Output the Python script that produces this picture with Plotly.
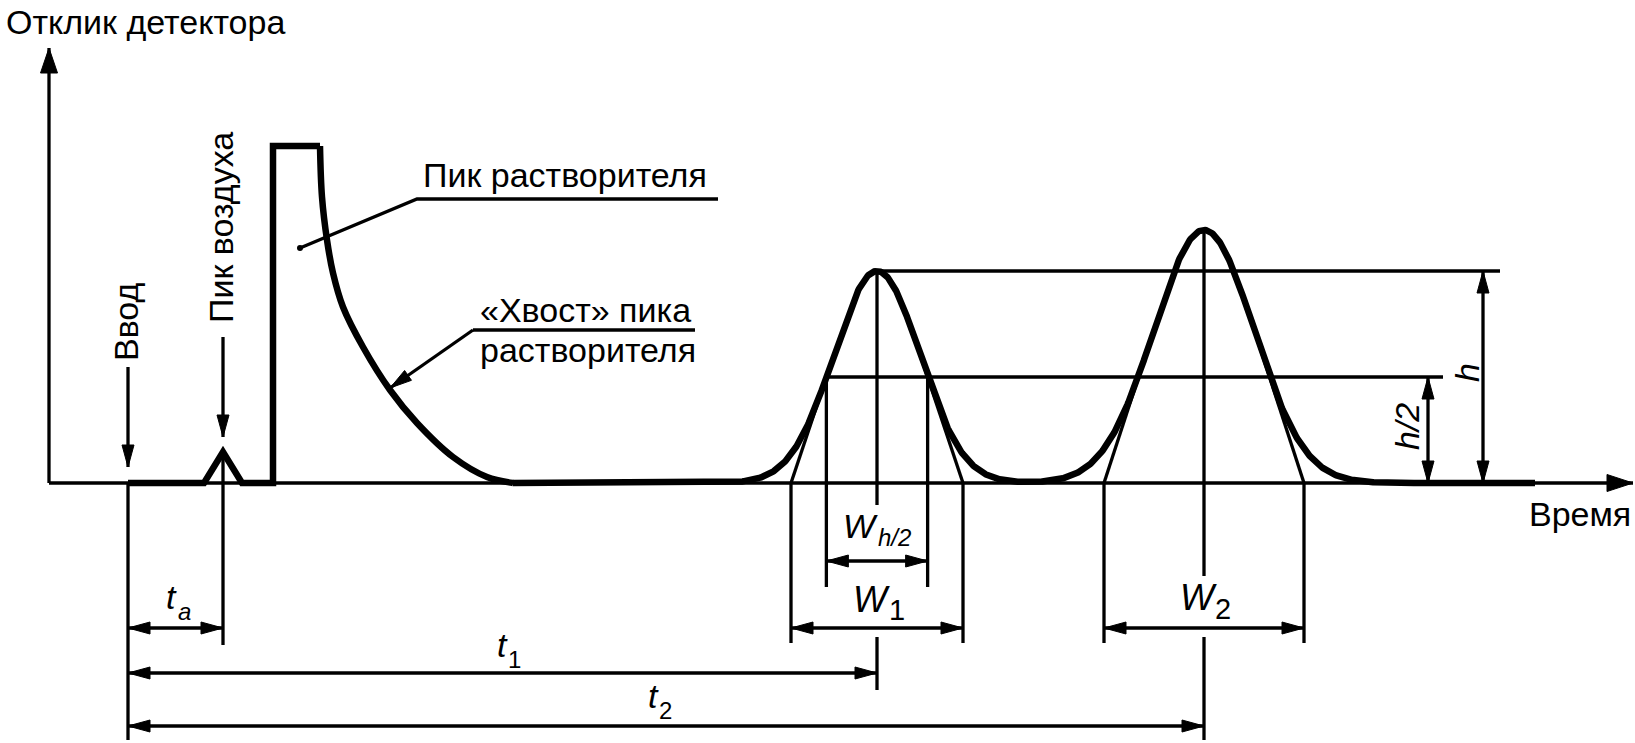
import numpy as np
import plotly.graph_objects as go

# ---------------- data (time: arbitrary units from injection; response: arbitrary units) -------------
t_air = 9.5                      # t_a, air peak retention
air_height = 3.1
air_half_base = 1.9
solvent_start = 14.5
solvent_height = 33.7
solvent_tail_t = [19.2, 19.4, 19.9, 20.5, 21.5, 23.5, 26.2, 28.9, 32.5, 35.9, 38.5]
solvent_tail_r = [33.7, 28.6, 24.3, 21.0, 17.6, 13.6, 9.3, 6.0, 2.6, 0.6, 0.0]
peak_t = [74.9, 107.6]           # t1, t2
peak_h = [21.2, 25.3]            # h of peak 1, peak 2
peak_sigma = [4.3, 5.0]
trace_end = 140.7

labels_main = {
    "ylab": "Отклик детектора",
    "xlab": "Время",
    "inject": "Ввод",
    "air": "Пик воздуха",
    "solvent": "Пик растворителя",
    "tail1": "«Хвост» пика",
    "tail2": "растворителя",
}

# ---------------- layout constants (positions/styles) ----------------
X0, X1 = -12.8, 150.7
Y0, Y1 = -26.0, 48.3
THICK = 6.5
THIN = 3.3
FONT = "Liberation Sans, Arial, Helvetica, sans-serif"
FS = 34
axis_x = -7.9
y_axis_top = 43.5
x_axis_end = 150.5

fig = go.Figure()

# ---------- thin lines ----------
lx, ly = [], []
heads = []


def seg(pts):
    for p in pts:
        lx.append(p[0]); ly.append(p[1])
    lx.append(None); ly.append(None)


def head(tip, frm, L=2.2, W=0.6):
    dx, dy = tip[0] - frm[0], tip[1] - frm[1]
    n = (dx * dx + dy * dy) ** 0.5
    dx, dy = dx / n, dy / n
    bx, by = tip[0] - dx * L, tip[1] - dy * L
    px, py = -dy, dx
    heads.append([(tip[0], tip[1]), (bx + px * W, by + py * W), (bx - px * W, by - py * W), (tip[0], tip[1])])


def arrow(a, b, both=False, **kw):
    seg([a, b])
    head(b, a, **kw)
    if both:
        head(a, b, **kw)


# axes
arrow((axis_x, 0), (axis_x, y_axis_top), L=2.5, W=0.85)
arrow((axis_x, 0), (x_axis_end, 0), L=2.6, W=0.85)

# injection and air peak pointers
arrow((0, 11.6), (0, 1.6))
arrow((t_air, 14.6), (t_air, 4.6))
seg([(0, 0), (0, -25.7)])
seg([(t_air, air_height), (t_air, -16.2)])

# solvent leaders
seg([(17.2, 23.5), (28.9, 28.4), (59.0, 28.4)])
arrow((34.5, 15.3), (26.2, 9.5))
seg([(34.5, 15.3), (56.7, 15.3)])

t1, t2 = peak_t
h1, h2 = peak_h
s1, s2 = peak_sigma
hw = 1.1774 * s1

# peak verticals
seg([(t1, h1), (t1, -2.2)])
seg([(t1, -15.4), (t1, -20.7)])
seg([(t2, h2), (t2, -9.3)])
seg([(t2, -15.4), (t2, -25.7)])

# half-width verticals
seg([(t1 - hw, h1 / 2), (t1 - hw, -10.4)])
seg([(t1 + hw, h1 / 2), (t1 + hw, -10.4)])

# tangents and base width verticals
for tc, hc, sc in zip(peak_t, peak_h, peak_sigma):
    for sgn in (-1, 1):
        seg([(tc + sgn * 2 * sc, 0), (tc + sgn * sc, hc * np.exp(-0.5))])
        seg([(tc + sgn * 2 * sc, 0), (tc + sgn * 2 * sc, -16.0)])

# h lines
seg([(t1, h1), (137.2, h1)])
seg([(t1 - hw, h1 / 2), (131.5, h1 / 2)])
arrow((135.5, 0), (135.5, h1), both=True)
arrow((130.0, 0), (130.0, h1 / 2), both=True)

# dimension lines
arrow((0, -14.5), (t_air, -14.5), both=True)
arrow((0, -19.0), (t1, -19.0), both=True)
arrow((0, -24.3), (t2, -24.3), both=True)
arrow((t1 - hw, -7.8), (t1 + hw, -7.8), both=True)
arrow((t1 - 2 * s1, -14.5), (t1 + 2 * s1, -14.5), both=True)
arrow((t2 - 2 * s2, -14.5), (t2 + 2 * s2, -14.5), both=True)

fig.add_trace(go.Scatter(x=lx, y=ly, mode="lines", line=dict(color="black", width=THIN),
                         hoverinfo="skip", showlegend=False))

hx, hy = [], []
for h in heads:
    for p in h:
        hx.append(p[0]); hy.append(p[1])
    hx.append(None); hy.append(None)
fig.add_trace(go.Scatter(x=hx, y=hy, mode="lines", fill="toself", fillcolor="black",
                         line=dict(color="black", width=1), hoverinfo="skip", showlegend=False))

# leader dot
fig.add_trace(go.Scatter(x=[17.2], y=[23.5], mode="markers", marker=dict(color="black", size=6),
                         hoverinfo="skip", showlegend=False))

# ---------- thick chromatogram trace ----------
left_x = [0, t_air - air_half_base, t_air, t_air + air_half_base, solvent_start, solvent_start,
          solvent_tail_t[0]]
left_y = [0, 0, air_height, 0, 0, solvent_height, solvent_tail_r[0]]
fig.add_trace(go.Scatter(x=left_x, y=left_y, mode="lines", line=dict(color="black", width=THICK),
                         hoverinfo="skip", showlegend=False))
fig.add_trace(go.Scatter(x=solvent_tail_t, y=solvent_tail_r, mode="lines",
                         line=dict(color="black", width=THICK, shape="spline", smoothing=1.0),
                         hoverinfo="skip", showlegend=False))
tt = np.linspace(solvent_tail_t[-1], trace_end, 1200)
rr = np.zeros_like(tt)
for tc, hc, sc in zip(peak_t, peak_h, peak_sigma):
    rr += hc * np.exp(-0.5 * ((tt - tc) / sc) ** 2)
fig.add_trace(go.Scatter(x=tt, y=rr, mode="lines", line=dict(color="black", width=THICK),
                         hoverinfo="skip", showlegend=False))

# ---------- text ----------
ann = []


def txt(x, y, s, size=FS, angle=0, xanchor="center", italic=False):
    if italic:
        s = "<i>" + s + "</i>"
    ann.append(dict(x=x, y=y, xref="x", yref="y", text=s, showarrow=False, textangle=angle,
                    xanchor=xanchor, yanchor="middle",
                    font=dict(family=FONT, size=size, color="black")))


txt(-12.4, 46.1, labels_main["ylab"], xanchor="left")
txt(43.7, 30.8, labels_main["solvent"])
txt(45.75, 17.3, labels_main["tail1"])
txt(45.95, 13.3, labels_main["tail2"])
txt(-0.2, 16.1, labels_main["inject"], angle=-90)
txt(9.3, 25.5, labels_main["air"], angle=-90)
txt(150.5, -3.1, labels_main["xlab"], xanchor="right")
txt(133.9, 11.0, "h", angle=-90, italic=True)
txt(127.9, 5.6, "h/2", angle=-90, italic=True)
# dimension labels (main symbol + subscript)
txt(4.3, -11.4, "t", italic=True)
txt(5.6, -12.8, "a", size=24, italic=True)
txt(37.4, -16.2, "t", italic=True)
txt(38.6, -17.6, "1", size=24)
txt(52.5, -21.3, "t", italic=True)
txt(53.7, -22.7, "2", size=24)
txt(74.3, -11.6, "W", size=36, italic=True)
txt(76.85, -12.7, "1", size=29)
txt(107.0, -11.4, "W", size=36, italic=True)
txt(109.5, -12.6, "2", size=29)
txt(73.2, -4.3, "W", italic=True)
txt(76.6, -5.4, "h/2", size=24, italic=True)

fig.update_layout(
    width=1635, height=743,
    margin=dict(l=0, r=0, t=0, b=0),
    paper_bgcolor="white", plot_bgcolor="white",
    xaxis=dict(range=[X0, X1], visible=False, fixedrange=True),
    yaxis=dict(range=[Y0, Y1], visible=False, fixedrange=True),
    annotations=ann,
    showlegend=False,
    hovermode=False,
)

fig.write_html(
    "out.html",
    config={"displayModeBar": False, "staticPlot": True},
    post_script="document.body.style.margin='0px';document.body.style.padding='0px';"
                "document.body.style.overflow='hidden';",
)
